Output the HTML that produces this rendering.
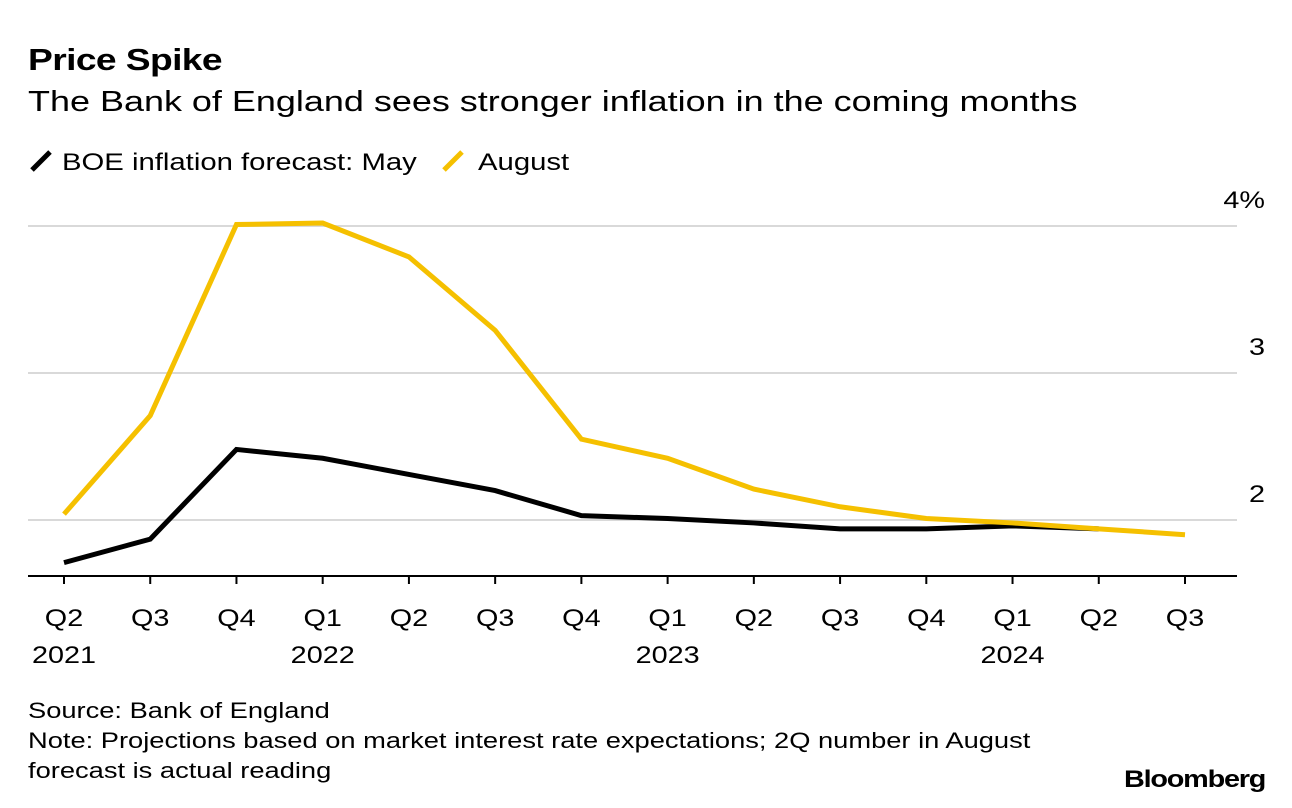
<!DOCTYPE html>
<html><head><meta charset="utf-8"><style>
body{margin:0;width:1292px;height:808px;background:#fff;font-family:"Liberation Sans",sans-serif;color:#000;overflow:hidden;position:relative}
.t{position:absolute;white-space:nowrap;transform-origin:0 0}
</style></head><body>
<div class="t" style="left:28px;top:42px;font-size:31px;font-weight:bold;letter-spacing:-0.5px;transform:scaleX(1.2)">Price Spike</div>
<div class="t" style="left:28px;top:86px;font-size:29px;transform:scaleX(1.24)">The Bank of England sees stronger inflation in the coming months</div>
<div class="t" style="left:28px;top:148px;font-size:24px"><svg width="34" height="26" style="vertical-align:-4px"><line x1="4" y1="22" x2="22" y2="4" stroke="#000" stroke-width="5"/></svg><span style="display:inline-block;transform:scaleX(1.22);transform-origin:0 0">BOE inflation forecast: May</span></div>
<div class="t" style="left:438px;top:148px;font-size:24px"><svg width="40" height="26" style="vertical-align:-4px"><line x1="6" y1="22" x2="24" y2="4" stroke="#f5c000" stroke-width="5"/></svg><span style="display:inline-block;transform:scaleX(1.22);transform-origin:0 0">August</span></div>
<svg id="chart" width="1292" height="808" style="position:absolute;left:0;top:0"></svg>
<div class="t" style="left:28px;top:696px;font-size:22px;line-height:30px;transform:scaleX(1.24)">Source: Bank of England<br>Note: Projections based on market interest rate expectations; 2Q number in August<br>forecast is actual reading</div>
<div class="t" style="left:1124px;top:766px;font-size:24px;font-weight:bold;letter-spacing:-1px;transform:scaleX(1.2)">Bloomberg</div>
<script>
const quarters=["Q2","Q3","Q4","Q1","Q2","Q3","Q4","Q1","Q2","Q3","Q4","Q1","Q2","Q3"];
const years=["2021","","","2022","","","","2023","","","","2024","",""];
const mayValues=[1.71,1.87,2.48,2.42,2.31,2.20,2.03,2.01,1.98,1.94,1.94,1.96,1.94];
const augustValues=[2.04,2.71,4.01,4.02,3.79,3.29,2.55,2.42,2.21,2.09,2.01,1.98,1.94,1.90];
const yTicks=[2,3,4];
const yTickLabels=["2","3","4%"];
const NS="http://www.w3.org/2000/svg";
const svg=document.getElementById("chart");
const x=i=>64+i*(1185-64)/13;
const y=v=>520-(v-2)*147;
function mk(t,a){const e=document.createElementNS(NS,t);for(const k in a)e.setAttribute(k,a[k]);svg.appendChild(e);return e;}
function txt(px,py,anchor,s){const t=mk("text",{x:0,y:0,"text-anchor":anchor,"font-size":24,transform:"translate("+px+","+py+") scale(1.2,1)"});t.textContent=s;return t;}
yTicks.forEach((v,i)=>{
 const g=mk("line",{x1:28,x2:1237,y1:y(v),y2:y(v),stroke:"#d9d9d9","stroke-width":2});
 
 
 const t=txt(1265,y(v)-18,"end",yTickLabels[i]);
 
 
});
const ax=mk("line",{x1:28,x2:1237,y1:576,y2:576,stroke:"#000","stroke-width":2});


quarters.forEach((q,i)=>{
 const tk=mk("line",{x1:x(i),x2:x(i),y1:576,y2:584,stroke:"#000","stroke-width":2});
 
 
 const t=txt(x(i),626,"middle",q);
 
 
 if(years[i]){const yt=txt(x(i),663,"middle",years[i]);
 
 }
});
function line(vals,color,name){
 const p=mk("polyline",{points:vals.map((v,i)=>x(i)+","+y(v)).join(" "),fill:"none",stroke:color,"stroke-width":5,"stroke-linejoin":"miter"});
 
 
}
line(mayValues,"#000","may-forecast-line");
line(augustValues,"#f5c000","august-forecast-line");
</script>
</body></html>
